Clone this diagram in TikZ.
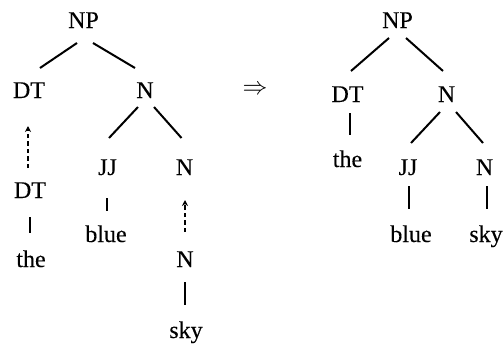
\documentclass[tikz,border=0pt]{standalone}
\usepackage{fontspec}
\setmainfont{Liberation Serif}[FakeBold=0.2]
\usetikzlibrary{calc,arrows.meta}
\tikzset{
  lab/.style={anchor=base,inner sep=0pt,font=\fontsize{24}{28}\selectfont},
  edge/.style={line width=2pt},
  moveedge/.style={line width=1.8pt,dash pattern=on 4.5pt off 3pt,-{Stealth[length=6pt,width=6pt]}}
}
\begin{document}
\begin{tikzpicture}[x=1pt,y=-1pt]
\useasboundingbox (0,0) rectangle (503,343);
% left tree
\node[lab] (npL) at (83.5,28) {NP};
\node[lab] (dtL) at (29,98) {DT};
\node[lab] (nL) at (145,98) {N};
\node[lab] (jjL) at (107.5,175) {JJ};
\node[lab] (nnL) at (184.5,175) {N};
\node[lab] (dtbL) at (30,198) {DT};
\node[lab] (theL) at (31,267) {the};
\node[lab] (blueL) at (106,242) {blue};
\node[lab] (nbL) at (185,267) {N};
\node[lab] (skyL) at (186,338) {sky};
\draw[edge] ($(npL.base)+(-6.5,15)$) -- ($(dtL.base)+(11,-30)$);
\draw[edge] ($(npL.base)+(9.5,15)$) -- ($(nL.base)+(-10,-30)$);
\draw[edge] ($(nL.base)+(-7,9)$) -- ($(jjL.base)+(1.5,-37)$);
\draw[edge] ($(nL.base)+(9,9)$) -- ($(nnL.base)+(-3,-37)$);
\draw[moveedge] ($(dtbL.base)+(-2,-30)$) -- ($(dtL.base)+(-1,28)$);
\draw[edge] ($(dtbL.base)+(0,19)$) -- ($(theL.base)+(-1,-34)$);
\draw[edge] ($(jjL.base)+(-0.5,23)$) -- ($(blueL.base)+(1,-31)$);
\draw[moveedge] ($(nbL.base)+(0,-35)$) -- ($(nnL.base)+(0.5,25)$);
\draw[edge] ($(nbL.base)+(0,15)$) -- ($(skyL.base)+(-1,-33)$);
% arrow
\node[inner sep=0pt,font=\fontsize{24}{28}\selectfont] (arr) at (255,90) {$\Rightarrow$};
% right tree
\node[lab] (npR) at (397.5,28) {NP};
\node[lab] (dtR) at (347.5,102) {DT};
\node[lab] (nR) at (446.5,102) {N};
\node[lab] (theR) at (347.5,167) {the};
\node[lab] (jjR) at (408,175) {JJ};
\node[lab] (nnR) at (484.5,175) {N};
\node[lab] (blueR) at (411,242) {blue};
\node[lab] (skyR) at (486,242) {sky};
\draw[edge] ($(npR.base)+(-8.5,10)$) -- ($(dtR.base)+(3.5,-31)$);
\draw[edge] ($(npR.base)+(8.5,10)$) -- ($(nR.base)+(-3.5,-31)$);
\draw[edge] ($(dtR.base)+(2.5,11)$) -- ($(theR.base)+(2.5,-32)$);
\draw[edge] ($(nR.base)+(-6.5,10)$) -- ($(jjR.base)+(3,-32)$);
\draw[edge] ($(nR.base)+(9.5,10)$) -- ($(nnR.base)+(-1.5,-32)$);
\draw[edge] ($(jjR.base)+(1,11)$) -- ($(blueR.base)+(-2,-33)$);
\draw[edge] ($(nnR.base)+(2.5,11)$) -- ($(skyR.base)+(1,-33)$);
\end{tikzpicture}
\end{document}
